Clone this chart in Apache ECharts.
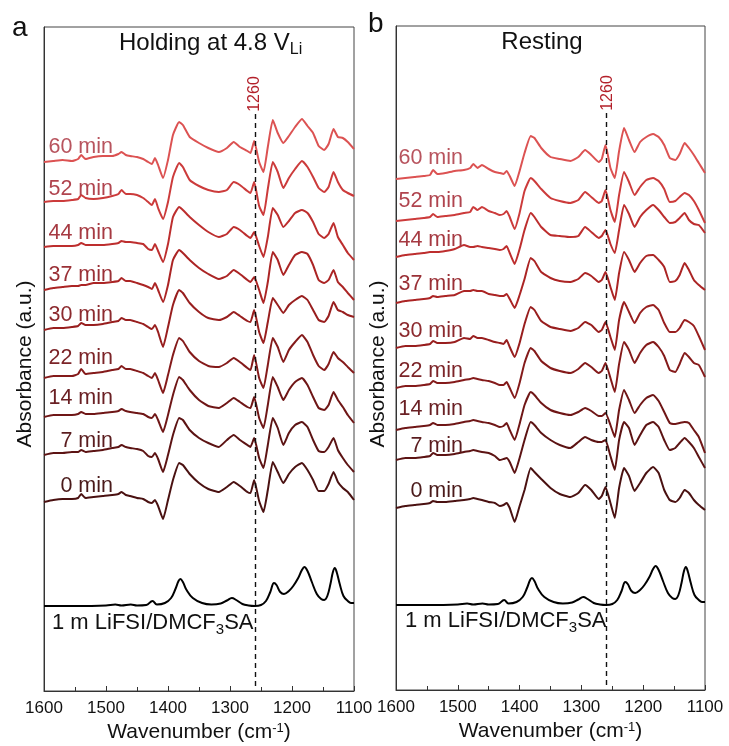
<!DOCTYPE html>
<html>
<head>
<meta charset="utf-8">
<title>In situ FTIR spectra</title>
<script src="https://cdn.jsdelivr.net/npm/echarts@6/dist/echarts.min.js"></script>
<style>
  html, body { margin: 0; padding: 0; background: #fff; }
  #chart { width: 729px; height: 746px; }
</style>
</head>
<body>
<div id="chart"></div>
<script>
// Sampling grid shared by every measured spectrum (cm^-1)
const wavenumbers = [1600, 1585, 1570, 1555, 1545, 1540, 1533, 1520, 1505, 1490,
  1480, 1475, 1468, 1461, 1450, 1440, 1432, 1426, 1421, 1416,
  1408, 1400, 1392, 1382, 1376, 1365, 1350, 1335, 1318, 1305,
  1294, 1284, 1272, 1267, 1261, 1253, 1246, 1239, 1231, 1223,
  1214, 1205, 1195, 1184, 1175, 1166, 1157, 1148, 1141, 1133,
  1126, 1118, 1110, 1100];

const timeLabels = ['0 min', '7 min', '14 min', '22 min', '30 min', '37 min', '44 min', '52 min', '60 min'];

// Panel a: holding at 4.8 V (relative absorbance, a.u.)
const hold0 = [0, 2, 3, 3, 4, 8, 4, 5, 6, 7, 8, 10, 7, 6, 4, 3, 0, -1, 2, -4, -17, 2, 22, 39, 37, 28, 19, 13, 10, 15, 20, 16, 10, 9, 22, 1, -10, 12, 40, 30, 19, 28, 35, 39, 32, 22, 11, 11, 18, 30, 20, 14, 10, 2];
const hold7 = [0, 2, 2, 3, 3, 5, 3, 4, 5, 7, 8, 10, 8, 7, 6, 4, -1, -2, 2, -4, -17, 0, 20, 37, 35, 25, 17, 12, 8, 15, 20, 15, 10, 8, 17, -3, -13, 10, 37, 27, 10, 22, 30, 33, 28, 15, 4, 3, 8, 17, 5, -3, -10, -17];
const hold14 = [0, 2, 2, 2, 3, 5, 3, 3, 4, 5, 6, 8, 6, 5, 4, 3, 0, -1, 3, -3, -15, 2, 22, 40, 37, 27, 17, 11, 9, 14, 19, 15, 10, 9, 20, -1, -11, 12, 40, 30, 17, 27, 35, 39, 32, 20, 9, 7, 12, 25, 17, 10, 2, -6];
const hold22 = [0, 2, 2, 2, 4, 9, 4, 5, 6, 8, 9, 12, 9, 9, 7, 5, 2, 0, 5, -2, -15, 3, 23, 40, 37, 26, 17, 12, 11, 15, 20, 16, 10, 8, 23, 0, -10, 13, 40, 31, 16, 28, 36, 43, 36, 23, 12, 8, 14, 26, 20, 16, 11, 5];
const hold30 = [0, 2, 2, 3, 4, 7, 5, 5, 6, 8, 9, 12, 10, 10, 8, 6, 3, 1, 5, -2, -17, 3, 25, 40, 37, 27, 18, 12, 10, 13, 18, 14, 9, 8, 20, -2, -13, 8, 32, 25, 17, 25, 30, 34, 30, 20, 10, 8, 14, 28, 20, 18, 15, 13];
const hold37 = [0, 2, 3, 4, 4, 5, 5, 7, 7, 8, 9, 12, 9, 9, 7, 5, 3, 1, 7, 0, -12, 5, 30, 40, 37, 30, 22, 16, 11, 14, 20, 16, 10, 8, 13, 0, -13, 8, 38, 30, 15, 25, 35, 38, 36, 25, 10, 7, 10, 20, 8, 3, -3, -10];
const hold44 = [0, 1, 1, 1, 2, 4, 2, 2, 2, 3, 4, 6, 5, 5, 4, 3, -2, -3, 3, -4, -15, 3, 30, 40, 37, 30, 22, 15, 10, 13, 20, 17, 11, 9, 15, 1, -10, 10, 39, 32, 20, 26, 34, 37, 34, 25, 13, 9, 13, 24, 10, 2, -6, -13];
const hold52 = [0, 1, 1, 2, 3, 7, 4, 3, 4, 6, 8, 12, 8, 8, 7, 4, 0, -3, 3, -6, -17, 0, 25, 39, 35, 22, 16, 12, 10, 12, 20, 17, 11, 9, 20, -4, -13, 13, 40, 30, 14, 24, 33, 41, 35, 25, 14, 10, 15, 30, 20, 12, 9, 6];
const hold60 = [0, 1, 2, 1, 3, 7, 3, 5, 6, 6, 8, 10, 7, 6, 5, 3, 0, -2, 4, -3, -16, 2, 27, 40, 37, 25, 19, 14, 10, 14, 20, 15, 11, 9, 21, 0, -10, 15, 42, 29, 19, 26, 35, 43, 36, 29, 16, 12, 18, 33, 25, 24, 20, 13];

// Panel b: resting (relative absorbance, a.u.)
const rest0 = [0, 2, 3, 4, 5, 7, 6, 6, 7, 8, 9, 10, 9, 8, 6, 5, 2, 3, 5, 0, -14, 2, 18, 40, 36, 29, 20, 14, 11, 15, 23, 18, 9, 12, 21, 5, -10, 20, 40, 32, 17, 25, 35, 41, 35, 18, 8, 6, 10, 18, 15, 8, 3, -2];
const rest7 = [0, 2, 2, 3, 4, 7, 5, 5, 6, 8, 9, 10, 9, 8, 7, 4, 0, 1, 2, -2, -13, 2, 20, 38, 35, 27, 20, 15, 12, 18, 23, 20, 18, 18, 20, 4, -10, 20, 38, 32, 15, 25, 35, 38, 33, 20, 10, 12, 17, 22, 18, 12, 3, -8];
const rest14 = [0, 2, 3, 4, 5, 7, 5, 5, 6, 8, 9, 10, 9, 8, 7, 5, 3, 4, 7, 0, -10, 6, 25, 38, 35, 27, 20, 17, 15, 18, 22, 19, 14, 14, 17, 5, -7, 20, 40, 30, 17, 25, 32, 35, 29, 18, 7, 6, 7, 8, 7, 0, -7, -23];
const rest22 = [0, 2, 2, 3, 4, 7, 5, 5, 6, 8, 9, 10, 9, 8, 7, 5, 3, 3, 6, 0, -10, 5, 25, 40, 37, 27, 20, 17, 15, 19, 25, 21, 15, 17, 25, 10, -4, 24, 46, 38, 25, 35, 43, 46, 41, 32, 18, 16, 24, 35, 31, 25, 23, 11];
const rest30 = [0, 2, 2, 3, 4, 7, 5, 5, 6, 10, 9, 12, 10, 10, 8, 6, 5, 4, 8, 1, -9, 5, 24, 41, 38, 27, 21, 19, 17, 20, 26, 23, 16, 18, 26, 11, -2, 28, 46, 36, 25, 35, 41, 43, 38, 25, 16, 16, 20, 28, 26, 22, 12, -2];
const rest37 = [0, 2, 3, 4, 5, 7, 6, 7, 8, 12, 12, 13, 12, 12, 9, 8, 7, 7, 9, 4, -5, 8, 24, 45, 42, 31, 25, 22, 21, 24, 30, 27, 21, 23, 31, 16, 3, 30, 51, 43, 31, 40, 47, 48, 43, 36, 21, 22, 28, 40, 33, 23, 18, 13];
const rest44 = [0, 2, 3, 4, 5, 5, 5, 6, 8, 12, 10, 10, 11, 10, 9, 8, 7, 8, 11, 4, -7, 8, 27, 44, 40, 30, 22, 21, 20, 21, 30, 25, 19, 21, 27, 13, 4, 27, 52, 43, 30, 40, 47, 52, 47, 40, 34, 35, 39, 44, 37, 33, 32, 24];
const rest52 = [0, 1, 2, 3, 4, 7, 4, 5, 6, 8, 9, 14, 11, 14, 10, 8, 6, 7, 10, 4, -8, 8, 30, 43, 40, 32, 23, 20, 18, 21, 29, 24, 18, 20, 31, 11, -1, 26, 49, 39, 26, 34, 41, 43, 40, 32, 19, 20, 24, 28, 26, 20, 11, -2];
const rest60 = [0, 1, 2, 3, 4, 9, 5, 6, 8, 9, 11, 15, 11, 14, 10, 7, 6, 5, 8, 3, -7, 8, 26, 43, 41, 31, 22, 20, 18, 22, 29, 24, 17, 20, 34, 11, 1, 28, 51, 39, 27, 37, 42, 45, 42, 34, 21, 19, 25, 36, 31, 24, 16, 6];

// Vertical stacking offsets (a.u.), ordered like timeLabels
const holdOffsets = [189, 236, 274, 313, 361, 401, 444, 489, 529];
const restOffsets = [182, 230, 260, 302, 342, 387, 433, 469, 511];

// Reference electrolyte spectrum, 1 m LiFSI/DMCF3SA
const refWavenumbers = [1600, 1550, 1500, 1485, 1475, 1460, 1450, 1435, 1425, 1418,
  1405, 1395, 1388, 1383, 1380, 1376, 1370, 1360, 1345, 1330,
  1315, 1305, 1297, 1290, 1280, 1270, 1260, 1250, 1242, 1235,
  1229, 1225, 1219, 1213, 1205, 1198, 1190, 1184, 1180, 1175,
  1168, 1160, 1153, 1148, 1143, 1138, 1134, 1131, 1128, 1123,
  1117, 1110, 1105, 1100];
const refSpectrum = [0, 0, 0.5, 1.5, 0.5, 1.5, 0.5, 1, 5, 1.5,
  3, 8, 17, 25, 27, 24, 16, 8, 3, 1.5,
  2.5, 5.5, 8, 6, 2, 0.5, 0, 1, 5, 14,
  23, 21, 14, 12, 15, 20, 28, 36, 39, 35,
  24, 12, 7, 6, 10, 22, 34, 38, 34, 22,
  10, 5, 3, 3];
const refOffset = 85;

const marker = 1260;
const tickValues = [1600, 1500, 1400, 1300, 1200, 1100];

const holdSpectra = [hold0, hold7, hold14, hold22, hold30, hold37, hold44, hold52, hold60];
const restSpectra = [rest0, rest7, rest14, rest22, rest30, rest37, rest44, rest52, rest60];

const traceColors = ['#4a1111', '#5c1313', '#6f1616', '#841a1a', '#981e1e', '#ab2424', '#bd2e2e', '#cc3b3b', '#dc5252'];
const labelColors = ['#4a1a1a', '#5a1c1e', '#6a2024', '#7c2428', '#8c2a2e', '#9a3036', '#a63a42', '#b0444e', '#b8545e'];

const FONT_NAME = 'Liberation Sans';
const FONT = '"Liberation Sans", Arial, Helvetica, sans-serif';

function toPairs(xs, ys, offset) {
  return xs.map((w, i) => [w, ys[i] + offset]);
}

function panelSeries(spectra, offsets, axisIndex) {
  const list = spectra.map((s, k) => ({
    type: 'line',
    xAxisIndex: axisIndex,
    yAxisIndex: axisIndex,
    data: toPairs(wavenumbers, s, offsets[k]),
    showSymbol: false,
    smooth: 0.15,
    lineStyle: { color: traceColors[k], width: 2 },
    silent: true,
    z: 3
  }));
  list.push({
    type: 'line',
    xAxisIndex: axisIndex,
    yAxisIndex: axisIndex,
    data: toPairs(refWavenumbers, refSpectrum, refOffset),
    showSymbol: false,
    smooth: 0.4,
    lineStyle: { color: '#000', width: 2 },
    silent: true,
    z: 3,
    markLine: {
      silent: true,
      symbol: 'none',
      label: { show: false },
      lineStyle: { color: '#111', width: 1.4, type: [5, 4] },
      data: [[{ coord: [marker, 5] }, { coord: [marker, 580] }]]
    }
  });
  return list;
}

function xAxis(gridIndex) {
  return {
    type: 'value',
    gridIndex: gridIndex,
    min: 1100,
    max: 1600,
    interval: 100,
    inverse: true,
    name: 'Wavenumber (cm{sup|-1})',
    nameLocation: 'middle',
    nameGap: 27,
    nameTextStyle: {
      fontFamily: FONT, fontSize: 21, color: '#111',
      rich: { sup: { fontFamily: FONT, fontSize: 13, color: '#111', verticalAlign: 'top', lineHeight: 12 } }
    },
    axisLine: { show: true, lineStyle: { color: '#333', width: 1 } },
    axisTick: { show: true, inside: true, length: 5, lineStyle: { color: '#333' } },
    minorTick: { show: true, splitNumber: 2, length: 4, lineStyle: { color: '#333' } },
    axisLabel: {
      fontFamily: FONT, fontSize: 17, color: '#111', margin: 9,
      formatter: v => (tickValues.indexOf(v) >= 0 ? String(v) : '')
    },
    splitLine: { show: false }
  };
}

function yAxis(gridIndex) {
  return {
    type: 'value',
    gridIndex: gridIndex,
    min: 0,
    max: 664,
    axisLine: { show: true, lineStyle: { color: '#333', width: 1 } },
    axisTick: { show: false },
    axisLabel: { show: false },
    splitLine: { show: false }
  };
}

function textEl(x, y, text, style, el) {
  return Object.assign({
    type: 'text',
    x: x,
    y: y,
    silent: true,
    z: 10,
    style: Object.assign({
      text: text,
      fontFamily: FONT,
      fontSize: 21,
      fill: '#111',
      align: 'left',
      verticalAlign: 'middle'
    }, style)
  }, el);
}

// Width of a run of text in the chart font, used to place subscripts
const measureCtx = document.createElement('canvas').getContext('2d');
function textWidth(str, size) {
  measureCtx.font = size + 'px "' + FONT_NAME + '", Arial, sans-serif';
  return measureCtx.measureText(str).width;
}

// Text with one subscript run: base + sub + tail
function subscriptText(x, y, base, sub, tail, size, subSize, drop) {
  const els = [textEl(x, y, base, { fontSize: size })];
  const wBase = textWidth(base, size);
  els.push(textEl(x + wBase, y + drop, sub, { fontSize: subSize }));
  if (tail) {
    const wSub = textWidth(sub, subSize);
    els.push(textEl(x + wBase + wSub, y, tail, { fontSize: size }));
  }
  return els;
}

const holdLabelY = [485, 440, 397, 357, 314, 274, 232, 188, 146];
const restLabelY = [490, 445, 408, 370, 330, 283, 239, 200, 157];

const graphics = [];
timeLabels.forEach((t, k) => {
  graphics.push(textEl(113, holdLabelY[k] + 1, t, { align: 'right', fill: labelColors[k], fontSize: 21.5 }));
  graphics.push(textEl(463, restLabelY[k] + 1, t, { align: 'right', fill: labelColors[k], fontSize: 21.5 }));
});

// Y-axis titles
graphics.push(textEl(25, 364, 'Absorbance (a.u.)', { fontSize: 21, align: 'center' }, { rotation: Math.PI / 2 }));
graphics.push(textEl(378, 364, 'Absorbance (a.u.)', { fontSize: 21, align: 'center' }, { rotation: Math.PI / 2 }));

graphics.push(...subscriptText(52, 623, '1 m LiFSI/DMCF', '3', 'SA', 22, 15, 7));
graphics.push(...subscriptText(405, 621, '1 m LiFSI/DMCF', '3', 'SA', 22, 15, 7));

graphics.push(...subscriptText(119, 43, 'Holding at 4.8 V', 'Li', '', 24, 16, 7));
graphics.push(textEl(542, 42, 'Resting', { fontSize: 24, align: 'center' }));

graphics.push(textEl(12, 28, 'a', { fontSize: 28 }));
graphics.push(textEl(368, 24, 'b', { fontSize: 28 }));

graphics.push(textEl(255, 94, String(marker), { fontSize: 16, fill: '#b3202a', align: 'center' }, { rotation: Math.PI / 2 }));
graphics.push(textEl(608, 93, String(marker), { fontSize: 16, fill: '#b3202a', align: 'center' }, { rotation: Math.PI / 2 }));

const chart = echarts.init(document.getElementById('chart'), null, { renderer: 'canvas' });
chart.setOption({
  animation: false,
  backgroundColor: '#fff',
  grid: [
    { left: 44, top: 27, width: 310, height: 664, show: true, borderColor: '#444', borderWidth: 1, containLabel: false, outerBoundsMode: 'none' },
    { left: 396, top: 26, width: 309, height: 664, show: true, borderColor: '#444', borderWidth: 1, containLabel: false, outerBoundsMode: 'none' }
  ],
  xAxis: [xAxis(0), xAxis(1)],
  yAxis: [yAxis(0), yAxis(1)],
  series: panelSeries(holdSpectra, holdOffsets, 0).concat(panelSeries(restSpectra, restOffsets, 1)),
  graphic: graphics
});
</script>
</body>
</html>
